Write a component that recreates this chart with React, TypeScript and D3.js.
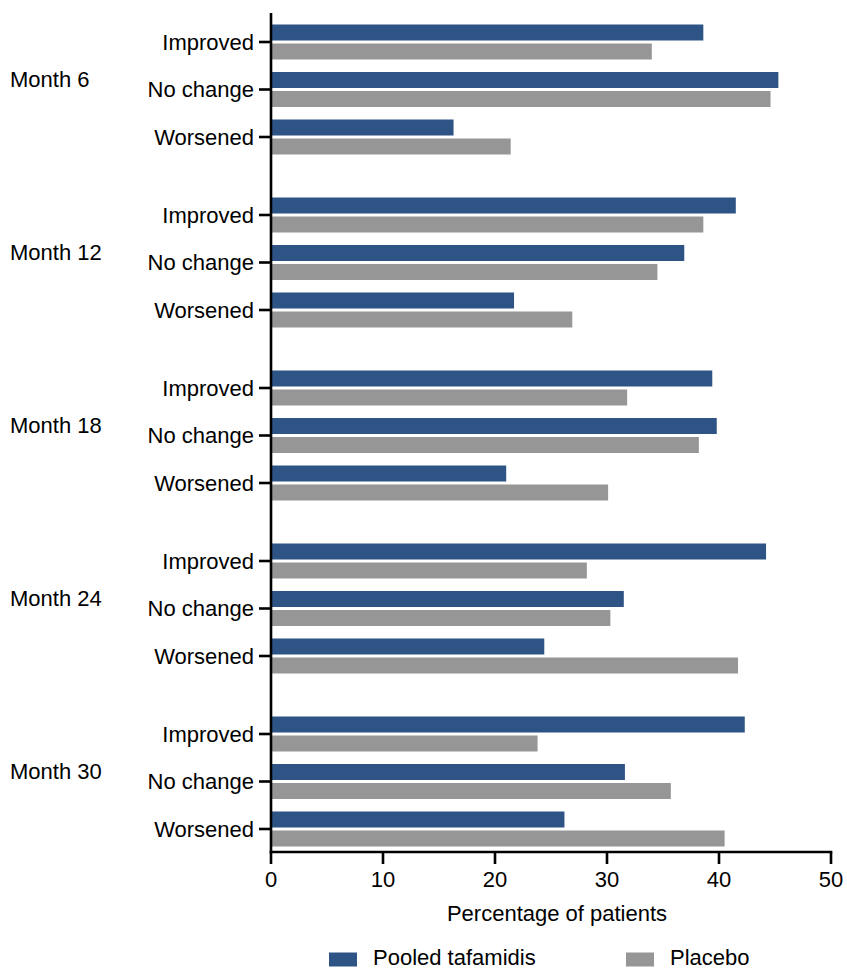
import React from "react";
import * as d3 from "d3";

// Visits and response categories
const months = ["Month 6", "Month 12", "Month 18", "Month 24", "Month 30"];
const categories = ["Improved", "No change", "Worsened"];

// Percentage of patients, one row per month, ordered as categories
const tafamidis = [
  [38.6, 45.3, 16.3],
  [41.5, 36.9, 21.7],
  [39.4, 39.8, 21.0],
  [44.2, 31.5, 24.4],
  [42.3, 31.6, 26.2],
];
const placebo = [
  [34.0, 44.6, 21.4],
  [38.6, 34.5, 26.9],
  [31.8, 38.2, 30.1],
  [28.2, 30.3, 41.7],
  [23.8, 35.7, 40.5],
];

const xTicks = [0, 10, 20, 30, 40, 50];
const seriesNames = ["Pooled tafamidis", "Placebo"];

const W = 847;
const H = 969;
const BLUE = "#2E5486";
const GRAY = "#969696";
const FONT = "'Liberation Sans', Arial, Helvetica, sans-serif";
const FS = 22;

export default function App() {
  const x = d3.scaleLinear().domain([0, 50]).range([271, 831]);
  const yMonth = d3.scalePoint<string>().domain(months).range([89.5, 781.5]);
  const yCat = d3.scalePoint<string>().domain(categories).range([-47.5, 47.5]);
  const axisY = 852;
  const axisTop = 13;
  const barH = 16;
  const gap = 1.5;

  const rowY = (m: string, c: string) => (yMonth(m) as number) + (yCat(c) as number);

  return (
    <svg
      width={W}
      height={H}
      style={{ position: "absolute", left: 0, top: 0, background: "#fff" }}
      fontFamily={FONT}
    >
      {/* bars */}
      {months.map((m, mi) =>
        categories.map((c, ci) => {
          const cy = rowY(m, c);
          return (
            <g key={`${m}-${c}`}>
              <rect
                x={x(0)}
                y={cy - gap - barH}
                width={x(tafamidis[mi][ci]) - x(0)}
                height={barH}
                fill={BLUE}
              />
              <rect
                x={x(0)}
                y={cy + gap}
                width={x(placebo[mi][ci]) - x(0)}
                height={barH}
                fill={GRAY}
              />
            </g>
          );
        })
      )}

      {/* y axis with category ticks */}
      <line x1={x(0)} x2={x(0)} y1={axisTop} y2={axisY + 1.3} stroke="#000" strokeWidth={2.6} />
      {months.map((m) =>
        categories.map((c) => {
          const cy = rowY(m, c);
          return (
            <g key={`t-${m}-${c}`}>
              <line x1={259} x2={x(0)} y1={cy} y2={cy} stroke="#000" strokeWidth={2.6} />
              <text
                x={254}
                y={cy}
                textAnchor="end"
                dominantBaseline="central"
                fontSize={FS}
                fill="#000"
              >
                {c}
              </text>
            </g>
          );
        })
      )}
      {months.map((m) => (
        <text
          key={`m-${m}`}
          x={10}
          y={(yMonth(m) as number) - 10}
          dominantBaseline="central"
          fontSize={FS}
          fill="#000"
        >
          {m}
        </text>
      ))}

      {/* x axis */}
      <line x1={x(0) - 1.3} x2={x(50) + 1.3} y1={axisY} y2={axisY} stroke="#000" strokeWidth={2.6} />
      {xTicks.map((t) => (
        <g key={`x-${t}`}>
          <line x1={x(t)} x2={x(t)} y1={axisY} y2={864} stroke="#000" strokeWidth={2.6} />
          <text x={x(t)} y={887} textAnchor="middle" fontSize={FS} fill="#000">
            {t}
          </text>
        </g>
      ))}
      <text x={557} y={921} textAnchor="middle" fontSize={FS} fill="#000">
        Percentage of patients
      </text>

      {/* legend */}
      {seriesNames.map((s, i) => {
        const sx = i === 0 ? 329 : 626;
        return (
          <g key={`l-${s}`}>
            <rect x={sx} y={952.5} width={28} height={14} fill={i === 0 ? BLUE : GRAY} />
            <text x={sx + 44} y={964.5} fontSize={FS} fill="#000">
              {s}
            </text>
          </g>
        );
      })}
    </svg>
  );
}
